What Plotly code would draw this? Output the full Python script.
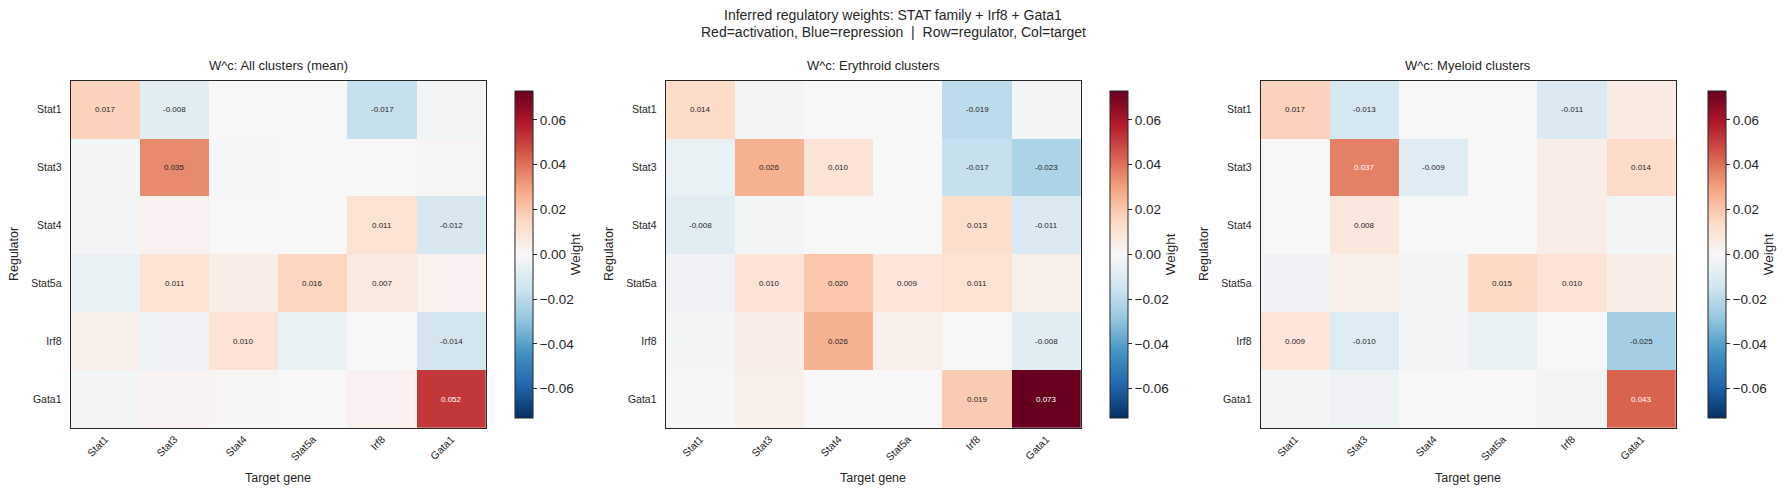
import plotly.graph_objects as go

W, H = 1786, 495

genes = ["Stat1", "Stat3", "Stat4", "Stat5a", "Irf8", "Gata1"]
panel_titles = ["W^c: All clusters (mean)", "W^c: Erythroid clusters", "W^c: Myeloid clusters"]
suptitle_1 = "Inferred regulatory weights: STAT family + Irf8 + Gata1"
suptitle_2 = "Red=activation, Blue=repression  |  Row=regulator, Col=target"

# rows = regulator, cols = target
w_all = [
    [0.017, -0.008, 0.000, 0.000, -0.017, -0.002],
    [-0.002, 0.035, -0.001, 0.000, 0.000, 0.001],
    [-0.002, 0.003, 0.000, 0.000, 0.011, -0.012],
    [-0.005, 0.011, 0.005, 0.016, 0.007, 0.003],
    [0.004, -0.004, 0.010, -0.005, 0.000, -0.014],
    [-0.002, 0.002, 0.001, 0.000, 0.003, 0.052],
]
w_ery = [
    [0.014, -0.002, 0.000, 0.000, -0.019, -0.002],
    [-0.005, 0.026, 0.010, 0.000, -0.017, -0.023],
    [-0.008, -0.002, 0.000, 0.000, 0.013, -0.011],
    [-0.003, 0.010, 0.020, 0.009, 0.011, 0.004],
    [-0.002, 0.005, 0.026, 0.004, 0.000, -0.008],
    [-0.001, 0.004, 0.000, 0.000, 0.019, 0.073],
]
w_mye = [
    [0.017, -0.013, 0.000, 0.000, -0.011, 0.006],
    [0.000, 0.037, -0.009, 0.000, 0.005, 0.014],
    [0.000, 0.008, 0.000, 0.000, 0.005, -0.002],
    [-0.003, 0.004, -0.002, 0.015, 0.010, 0.005],
    [0.009, -0.010, -0.002, -0.005, 0.000, -0.025],
    [-0.002, -0.004, 0.000, 0.000, -0.002, 0.043],
]
cbar_ticks = [-0.06, -0.04, -0.02, 0.00, 0.02, 0.04, 0.06]
label_threshold = 0.0065

panels = [w_all, w_ery, w_mye]
vmax = max(abs(v) for m in panels for row in m for v in row)

# matplotlib RdBu_r
rdbu_r = ["#053061", "#2166ac", "#4393c3", "#92c5de", "#d1e5f0", "#f7f7f7",
          "#fddbc7", "#f4a582", "#d6604d", "#b2182b", "#67001f"]
colorscale = [[i / 10, c] for i, c in enumerate(rdbu_r)]

FONT = "Liberation Sans, Arial, sans-serif"
TXT = "#262626"

# layout in pixels
plot_x = [(70.7, 486.0), (665.7, 1081.0), (1260.7, 1676.0)]
cbar_x = [505.0, 1100.0, 1698.0]
plot_top, plot_bot = 80.7, 428.0

def px(x):
    return x / W

def py(y):
    return 1 - y / H

fig = go.Figure()
annotations = []
for k, (m, title) in enumerate(zip(panels, panel_titles)):
    ax = "" if k == 0 else str(k + 1)
    x0, x1 = plot_x[k]
    fig.add_trace(go.Heatmap(
        z=m, x=genes, y=genes, xaxis="x" + ax, yaxis="y" + ax,
        colorscale=colorscale, zmin=-vmax, zmax=vmax,
        hoverongaps=False,
        colorbar=dict(
            x=px(cbar_x[k]), xanchor="left", xref="paper",
            y=py((plot_top + plot_bot) / 2), yanchor="middle", yref="paper",
            len=plot_bot - plot_top, lenmode="pixels",
            thickness=18, thicknessmode="pixels",
            outlinewidth=1, outlinecolor=TXT,
            tickvals=cbar_ticks, tickformat=".2f",
            ticks="outside", ticklen=4, tickcolor=TXT, tickwidth=1,
            tickfont=dict(size=13.5, color=TXT, family=FONT),
            title=dict(text="Weight", side="right", font=dict(size=13.5, color=TXT, family=FONT)),
        ),
    ))
    common = dict(showline=True, mirror=True, linecolor=TXT, linewidth=1.2,
                  showgrid=False, zeroline=False, ticks="", automargin=False,
                  tickfont=dict(size=10.5, color=TXT, family=FONT))
    fig.update_layout(**{
        "xaxis" + ax: dict(domain=[px(x0), px(x1)], anchor="y" + ax, tickangle=-45,
                           ticklabelstandoff=0, **common),
        "yaxis" + ax: dict(domain=[py(plot_bot), py(plot_top)], anchor="x" + ax,
                           autorange="reversed", ticklabelstandoff=6, **common),
    })
    # cell labels
    for i, row in enumerate(m):
        for j, v in enumerate(row):
            if abs(v) >= label_threshold:
                annotations.append(dict(
                    x=genes[j], y=genes[i], xref="x" + ax, yref="y" + ax,
                    text=f"{v:.3f}", showarrow=False,
                    font=dict(size=8, family=FONT,
                              color="white" if abs(v) > 0.5 * vmax else TXT)))
    cx = (x0 + x1) / 2
    annotations.append(dict(x=px(cx), y=py(66), xref="paper", yref="paper",
                            text=title, showarrow=False, xanchor="center", yanchor="middle",
                            font=dict(size=13, color=TXT, family=FONT)))
    annotations.append(dict(x=px(cx), y=py(478), xref="paper", yref="paper",
                            text="Target gene", showarrow=False, xanchor="center", yanchor="middle",
                            font=dict(size=12.5, color=TXT, family=FONT)))
    annotations.append(dict(x=px(x0 - 56), y=py((plot_top + plot_bot) / 2), xref="paper", yref="paper",
                            text="Regulator", showarrow=False, textangle=-90,
                            xanchor="center", yanchor="middle",
                            font=dict(size=12.5, color=TXT, family=FONT)))

annotations.append(dict(x=0.5, y=py(15), xref="paper", yref="paper", text=suptitle_1,
                        showarrow=False, xanchor="center", yanchor="middle",
                        font=dict(size=14, color=TXT, family=FONT)))
annotations.append(dict(x=0.5, y=py(32), xref="paper", yref="paper", text=suptitle_2,
                        showarrow=False, xanchor="center", yanchor="middle",
                        font=dict(size=14, color=TXT, family=FONT)))

fig.update_layout(
    width=W, height=H, margin=dict(l=0, r=0, t=0, b=0, autoexpand=False),
    paper_bgcolor="white", plot_bgcolor="white",
    annotations=annotations, showlegend=False,
    font=dict(family=FONT, color=TXT),
)
fig.write_html("out.html")
